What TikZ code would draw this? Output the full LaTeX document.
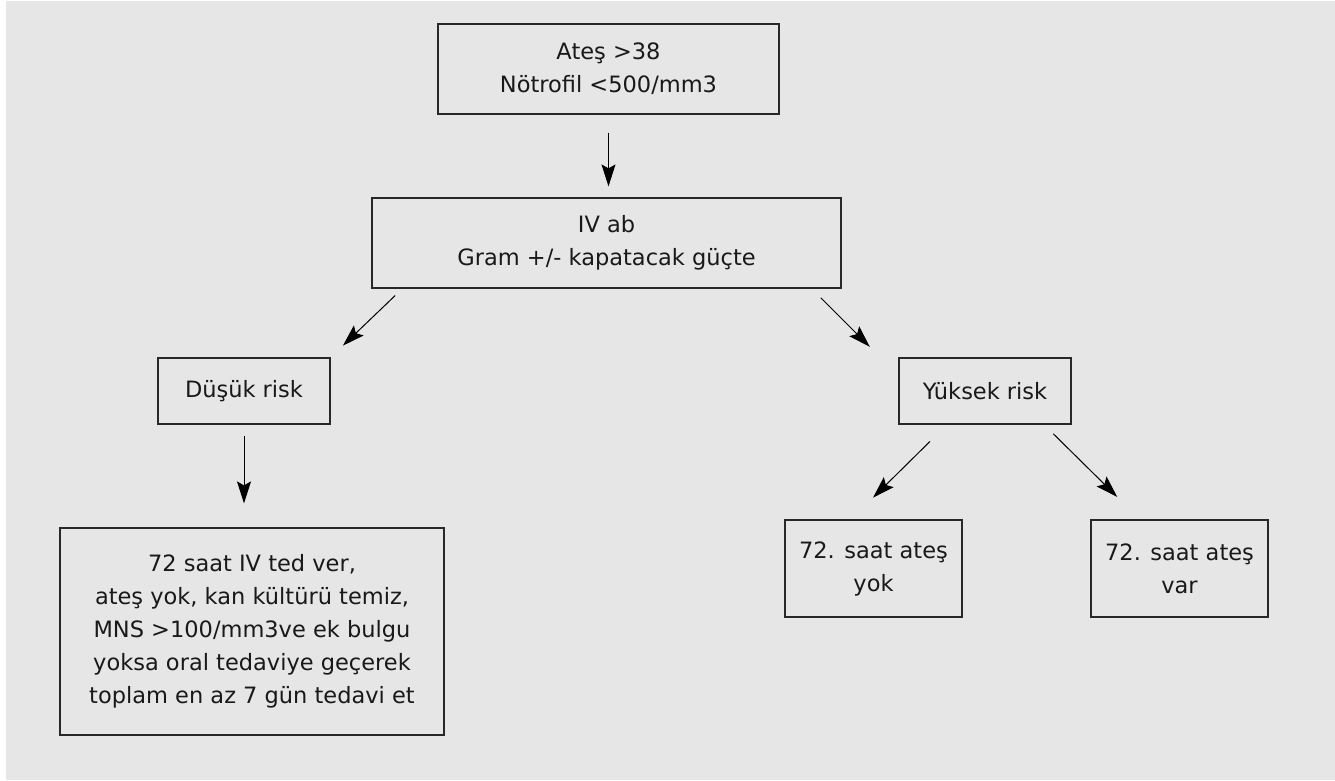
\documentclass[tikz,border=0pt]{standalone}
\usepackage{fontspec}
\setmainfont{DejaVu Sans}
\usepackage{xcolor}
\usetikzlibrary{arrows.meta}
\definecolor{bggray}{RGB}{230,230,230}
\definecolor{boxline}{RGB}{40,40,40}

\begin{document}
\begin{tikzpicture}[x=1pt,y=-1pt,
      box/.style={draw=boxline,line width=1.2pt,inner sep=0pt,align=center,
         text=black!90,font=\fontsize{22.5}{33}\selectfont},
      arr/.style={line width=1pt,-{Stealth[length=22pt,width=14pt,inset=4pt]}}]
   			\fill[white] (0,0) rectangle (1335,780);
   			\fill[bggray] (6,1) rectangle (1335,780);

   			\node[box,minimum width=341pt,minimum height=90pt] (fever) at (608.5,69)
   				{Ateş >38\\Nötrofil <500/mm3};
   			\node[box,minimum width=469pt,minimum height=90pt] (ivab) at (606.5,243)
   				{IV ab\\Gram +/- kapatacak güçte};
   			\node[box,minimum width=172pt,minimum height=66pt] (low) at (244,391) {Düşük risk};
   			\node[box,minimum width=172pt,minimum height=66pt] (high) at (985,391) {Yüksek risk};
   			\node[box,minimum width=384pt,minimum height=207pt] (treat) at (252,631.5)
   				{72 saat IV ted ver,\\ateş yok, kan kültürü temiz,\\MNS >100/mm3ve ek bulgu\\
   				 yoksa oral tedaviye geçerek\\toplam en az 7 gün tedavi et};
   			\foreach \name/\x/\txt in {
   				nofever/873.5/yok,
   				stillfever/1179.5/var
   			}{
   				\node[box,minimum width=177pt,minimum height=97pt] (\name) at (\x,568.5)
   					{72. saat ateş\\\txt};
   			}

   			\draw[arr,shorten <=18pt,shorten >=11pt] (fever.south) -- (fever.south |- ivab.north);
   			\draw[arr,shorten <=10pt,shorten >=17pt] ([xshift=31pt]ivab.south west) -- (low.north east);
   			\draw[arr,shorten <=13pt,shorten >=15pt] ([xshift=-30pt]ivab.south east) -- ([xshift=-18pt]high.north west);
   			\draw[arr,shorten <=11pt,shorten >=24pt] (low.south) -- (low.south |- treat.north);
   			\draw[arr,shorten <=24pt,shorten >=31pt] ([xshift=-38pt]high.south) -- ([xshift=-22.5pt]nofever.north);
   			\draw[arr,shorten <=13pt,shorten >=32pt] ([xshift=59pt]high.south) -- ([xshift=-39.5pt]stillfever.north);
   		\end{tikzpicture}
\end{document}
